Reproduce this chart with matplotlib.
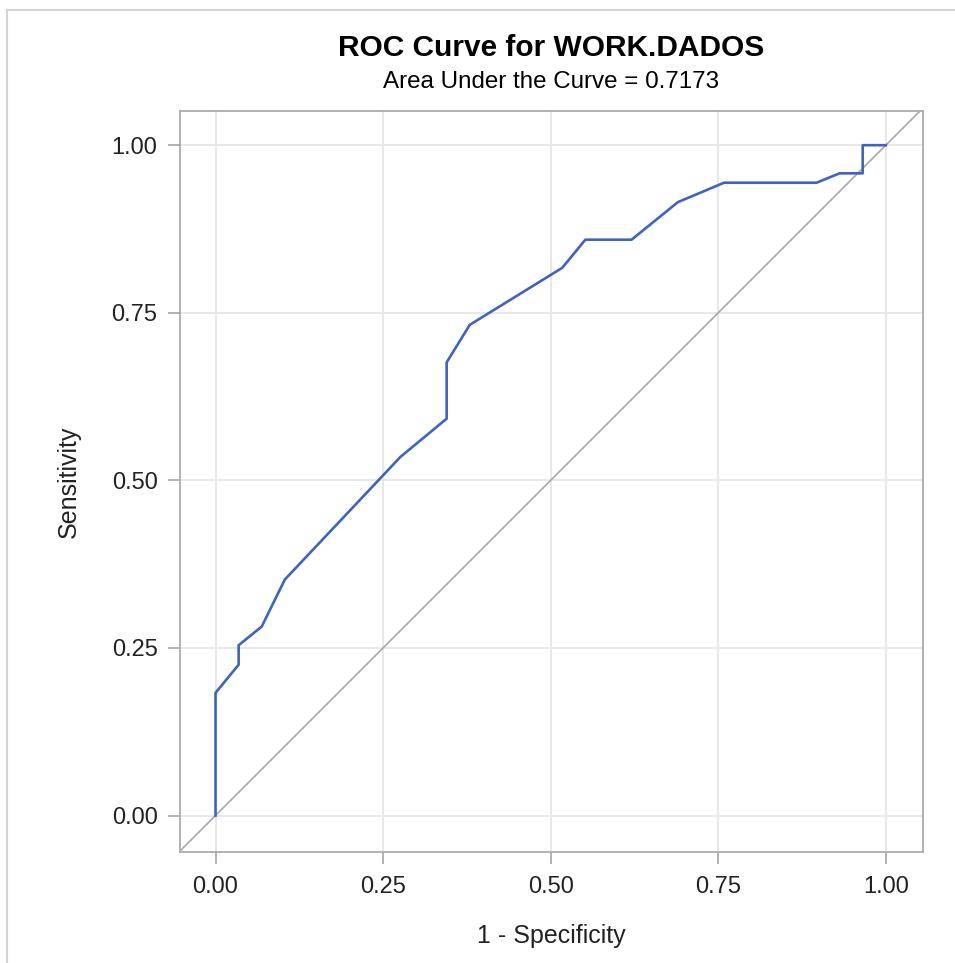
import matplotlib
matplotlib.use("Agg")
import matplotlib.pyplot as plt
from matplotlib.lines import Line2D

plt.rcParams['font.family'] = ['Liberation Sans', 'DejaVu Sans']

# ROC curve points (1 - specificity, sensitivity)
fpr = [0.0, 0.0, 0.0345, 0.0345, 0.0690, 0.1034, 0.2759, 0.3448, 0.3448,
       0.3793, 0.5172, 0.5517, 0.6207, 0.6897, 0.7586, 0.8966, 0.9310,
       0.9655, 0.9655, 1.0]
tpr = [0.0, 0.183, 0.225, 0.254, 0.282, 0.352, 0.535, 0.592, 0.676,
       0.732, 0.817, 0.859, 0.859, 0.915, 0.944, 0.944, 0.958,
       0.958, 1.0, 1.0]
ticks = [0.0, 0.25, 0.5, 0.75, 1.0]
tick_labels = ["0.00", "0.25", "0.50", "0.75", "1.00"]
title = "ROC Curve for WORK.DADOS"
subtitle = "Area Under the Curve = 0.7173"

fig = plt.figure(figsize=(9.55, 9.63), dpi=100)
ax = fig.add_axes([180/955, 1-851.7/963, (922.7-180)/955, (851.7-111)/963])

xlim = (-0.053, 1.055)
ylim = (-0.054, 1.051)
ax.set_xlim(*xlim)
ax.set_ylim(*ylim)

ax.set_xticks(ticks)
ax.set_xticklabels(tick_labels)
ax.set_yticks(ticks)
ax.set_yticklabels(tick_labels)
ax.grid(True, color='#e6e6e6', linewidth=1.3)
ax.set_axisbelow(True)

ax.plot([-0.1, 1.1], [-0.1, 1.1], color='#a8a8a8', linewidth=1.2, zorder=2)
ax.plot(fpr, tpr, color='#3f64b9', linewidth=1.9, zorder=3)

for s in ax.spines.values():
    s.set_color('#a9adb0')
    s.set_linewidth(1.3)
ax.tick_params(axis='both', length=8.5, width=1.3, color='#a9adb0',
               labelsize=17, labelcolor='#222222')
ax.tick_params(axis='y', pad=7.7)
ax.tick_params(axis='x', pad=9)

ax.set_xlabel("1 - Specificity", fontsize=18, color='#222222', labelpad=19)
ax.set_ylabel("Sensitivity", fontsize=18, color='#222222', labelpad=22)

fig.text(551/955, 1-48/963, title, ha='center', va='center',
         fontsize=21.5, fontweight='bold', color='black')
fig.text(551/955, 1-81.5/963, subtitle, ha='center', va='center',
         fontsize=17.4, color='black')

# outer page border (top and left edges)
fig.add_artist(Line2D([7/955, 1.0], [1-10.5/963, 1-10.5/963],
                      transform=fig.transFigure, color='#d4d4d4', linewidth=1.5))
fig.add_artist(Line2D([7/955, 7/955], [0.0, 1-10.5/963],
                      transform=fig.transFigure, color='#d4d4d4', linewidth=1.5))

fig.savefig("out.png", dpi=100)
